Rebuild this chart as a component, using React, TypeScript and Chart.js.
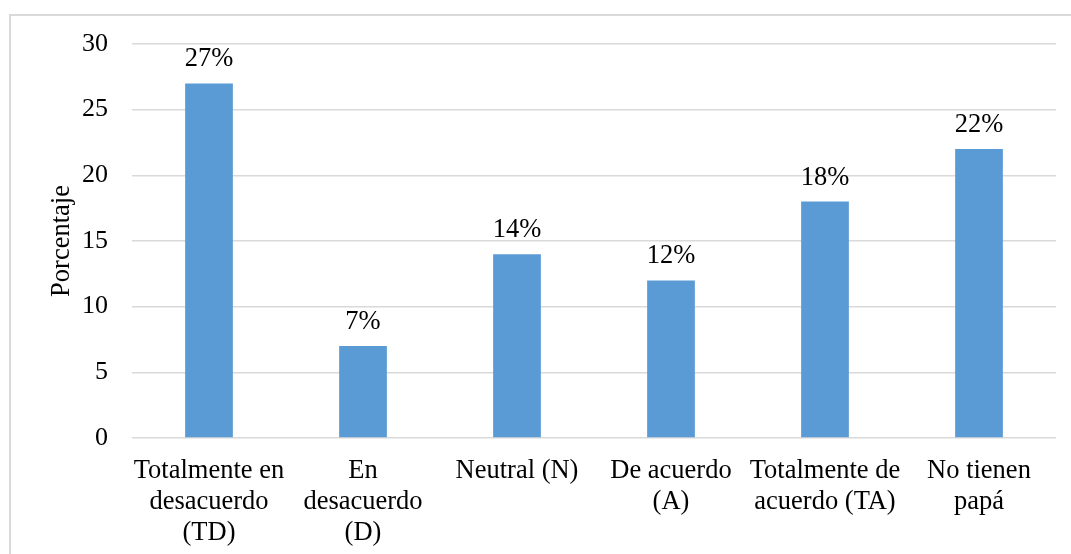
import React, { useEffect, useRef } from "react";
import { Chart, registerables } from "chart.js";

Chart.register(...registerables);

const categories: string[][] = [
  ["Totalmente en", "desacuerdo", "(TD)"],
  ["En", "desacuerdo", "(D)"],
  ["Neutral (N)"],
  ["De acuerdo", "(A)"],
  ["Totalmente de", "acuerdo (TA)"],
  ["No tienen", "papá"],
];
const values: number[] = [27, 7, 14, 12, 18, 22];
const valueLabels: string[] = ["27%", "7%", "14%", "12%", "18%", "22%"];
const yTitle = "Porcentaje";

const FONT = '"Liberation Serif", "Times New Roman", serif';

const dataLabelPlugin = {
  id: "dataLabelPlugin",
  afterDatasetsDraw(chart: any) {
    const ctx = chart.ctx;
    const meta = chart.getDatasetMeta(0);
    ctx.save();
    ctx.font = `26.5px ${FONT}`;
    ctx.fillStyle = "#000000";
    ctx.textAlign = "center";
    ctx.textBaseline = "alphabetic";
    meta.data.forEach((bar: any, i: number) => {
      ctx.fillText(valueLabels[i], bar.x, bar.y - 17);
    });
    ctx.restore();
  },
};

export default function App() {
  const ref = useRef<HTMLCanvasElement | null>(null);
  useEffect(() => {
    if (!ref.current) return;
    const chart = new Chart(ref.current, {
      type: "bar",
      data: {
        labels: categories,
        datasets: [
          {
            data: values,
            backgroundColor: "#5B9BD5",
            borderWidth: 0,
            barPercentage: 0.31,
            categoryPercentage: 1,
          },
        ],
      },
      options: {
        responsive: false,
        animation: false,
        devicePixelRatio: 1,
        layout: { padding: { top: 44, right: 15, left: 0, bottom: 0 } },
        plugins: {
          legend: { display: false },
          tooltip: { enabled: false },
        },
        scales: {
          x: {
            grid: { display: false, drawTicks: false },
            border: { display: false },
            ticks: {
              color: "#000000",
              font: { family: FONT, size: 26.5, lineHeight: 1.17 },
              padding: 18,
              maxRotation: 0,
              autoSkip: false,
            },
            afterFit(scale: any) {
              scale.height = 116;
            },
          },
          y: {
            min: 0,
            max: 30,
            grid: { color: "#d9d9d9", lineWidth: 1.5, drawTicks: false },
            border: { display: false },
            ticks: {
              stepSize: 5,
              color: "#000000",
              font: { family: FONT, size: 26 },
              padding: 24,
            },
            title: {
              display: true,
              text: yTitle,
              color: "#000000",
              font: { family: FONT, size: 26.5 },
              padding: { top: 46, bottom: 0 },
            },
            afterFit(scale: any) {
              scale.width = 132;
            },
          },
        },
      },
      plugins: [dataLabelPlugin],
    });
    return () => chart.destroy();
  }, []);

  return (
    <div
      style={{
        position: "fixed",
        left: 0,
        top: 0,
        width: 1071,
        height: 554,
        overflow: "hidden",
        background: "#ffffff",
      }}
    >
      <div
        style={{
          position: "absolute",
          left: 9,
          top: 14,
          width: 1200,
          height: 700,
          borderTop: "2px solid #d9d9d9",
          borderLeft: "2px solid #d9d9d9",
        }}
      />
      <canvas
        ref={ref}
        width={1071}
        height={554}
        style={{ position: "absolute", left: 0, top: 0 }}
      />
    </div>
  );
}
